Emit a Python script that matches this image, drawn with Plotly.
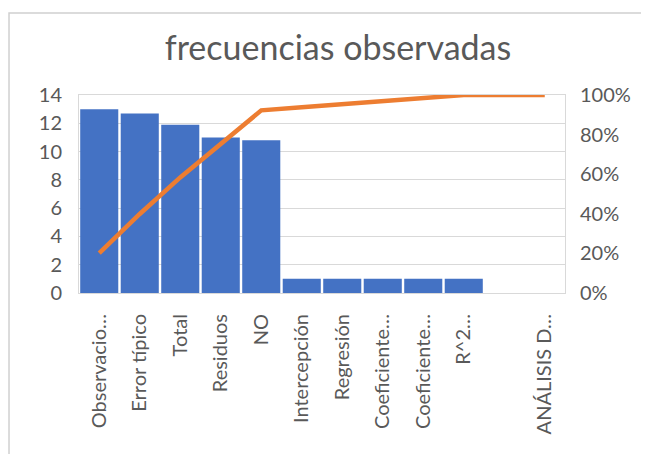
import plotly.graph_objects as go

# data
categorias = ["Observacio…", "Error típico", "Total", "Residuos", "NO",
              "Intercepción", "Regresión", "Coeficiente…", "Coeficiente…",
              "R^2…", " ", "ANÁLISIS D…"]
frecuencias = [13, 12.7, 11.9, 11, 10.8, 1, 1, 1, 1, 1, 0, 0]

total = sum(frecuencias)
acumulado = []
s = 0
for v in frecuencias:
    s += v
    acumulado.append(s / total)

x_idx = list(range(len(categorias)))

gris_txt = "#595959"
gris_lin = "#d9d9d9"
fuente = "Lato, 'Open Sans', sans-serif"

fig = go.Figure()
fig.add_trace(go.Bar(
    x=x_idx, y=frecuencias,
    marker=dict(color="#4472c4", line=dict(width=0)),
    yaxis="y", showlegend=False,
))
fig.add_trace(go.Scatter(
    x=x_idx, y=acumulado,
    mode="lines",
    line=dict(color="#ed7d31", width=4.5),
    yaxis="y2", showlegend=False,
))

# the page adds an 8px body margin, so the figure is laid out 8px up/left
fig.update_layout(
    width=649, height=454,
    margin=dict(l=71, r=92, t=87, b=169),
    paper_bgcolor="white",
    plot_bgcolor="white",
    bargap=0.06,
    font=dict(family=fuente, color=gris_txt),
    title=dict(
        text="frecuencias observadas",
        x=330 / 649, xanchor="center",
        y=1 - 40 / 454, yanchor="middle",
        font=dict(size=34, color=gris_txt, family=fuente),
    ),
    xaxis=dict(
        tickmode="array", tickvals=x_idx, ticktext=categorias,
        tickangle=-90, tickfont=dict(size=20, color=gris_txt),
        range=[-0.5, len(categorias) - 0.5],
        showline=True, linecolor=gris_lin, mirror=True,
        showgrid=False, ticks="", ticklabelstandoff=12,
    ),
    yaxis=dict(
        range=[0, 14], dtick=2,
        tickfont=dict(size=20, color=gris_txt),
        gridcolor=gris_lin, showline=True, linecolor=gris_lin, mirror=True,
        zeroline=False, ticks="", ticklabelstandoff=12,
    ),
    yaxis2=dict(
        overlaying="y", side="right",
        range=[0, 1], tickvals=[0, 0.2, 0.4, 0.6, 0.8, 1.0],
        tickformat=".0%", tickfont=dict(size=20, color=gris_txt),
        showgrid=False, zeroline=False, ticks="", ticklabelstandoff=14,
    ),
    shapes=[dict(
        type="rect", xref="paper", yref="paper",
        x0=-0.144, x1=1.2, y0=-0.85, y1=1.414,
        line=dict(color="#d0d0d0", width=1.5),
    )],
)

fig.write_html("out.html")
